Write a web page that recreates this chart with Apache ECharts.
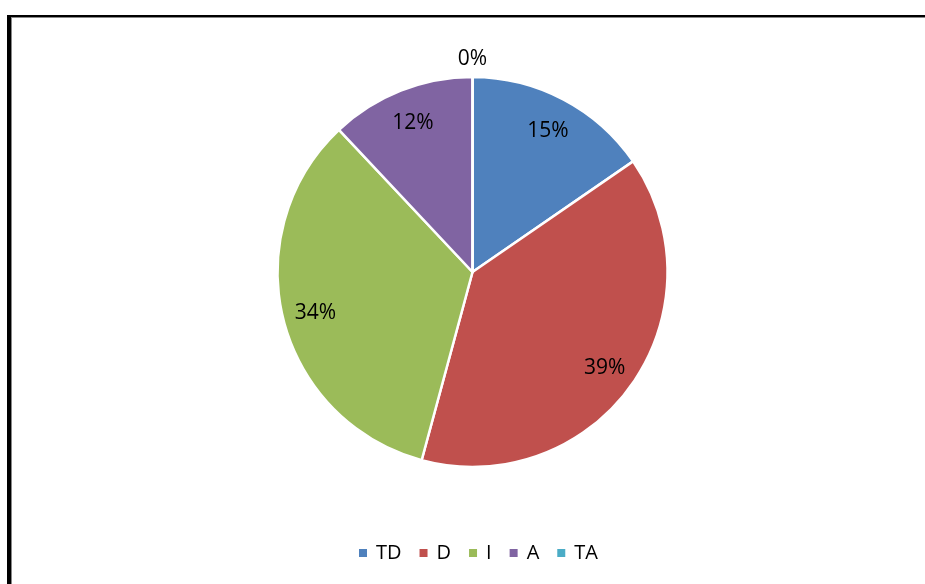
<!DOCTYPE html>
<html>
<head>
<meta charset="utf-8">
<script src="https://cdn.jsdelivr.net/npm/echarts@6/dist/echarts.min.js"></script>
<style>
html,body{margin:0;padding:0;background:#fff;}
#chart{width:925px;height:584px;}
</style>
</head>
<body>
<div id="chart"></div>
<script>
var categories = ['TD', 'D', 'I', 'A', 'TA'];
var values = [15.4, 38.8, 33.8, 12.0, 0];
var colors = ['#4F81BD', '#C0504D', '#9BBB59', '#8064A2', '#4BACC6'];

var FONT = '"Open Sans", "Liberation Sans", sans-serif';

var chart = echarts.init(document.getElementById('chart'), null, {renderer: 'canvas'});

var mainData = categories.map(function (c, i) {
  return { name: c, value: values[i], itemStyle: { color: colors[i] } };
});
var labelData = categories.map(function (c, i) {
  var d = { name: c, value: values[i] };
  if (values[i] === 0) {
    d.label = { position: 'inside', offset: [0, -51] };
  } else {
    d.label = { offset: [0, 2] };
  }
  return d;
});

chart.setOption({
  animation: false,
  backgroundColor: '#fff',
  color: colors,
  graphic: [
    { type: 'rect', shape: { x: 7, y: 15, width: 918, height: 2 }, style: { fill: '#000' }, silent: true },
    { type: 'rect', shape: { x: 11, y: 17, width: 914, height: 1 }, style: { fill: '#888' }, silent: true },
    { type: 'rect', shape: { x: 7, y: 15, width: 4, height: 569 }, style: { fill: '#000' }, silent: true },
    { type: 'rect', shape: { x: 11, y: 17, width: 1, height: 567 }, style: { fill: '#888' }, silent: true }
  ],
  legend: {
    data: categories,
    left: 354,
    top: 538,
    itemWidth: 8,
    itemHeight: 8,
    itemGap: 18,
    icon: 'rect',
    itemStyle: { borderWidth: 0 },
    textStyle: { fontFamily: FONT, fontSize: 20, color: '#000', padding: [0, 0, 0, 4] }
  },
  series: [
    {
      type: 'pie',
      center: [472.5, 272],
      radius: [0, 195],
      startAngle: 90,
      clockwise: true,
      label: { show: false },
      labelLine: { show: false },
      itemStyle: { borderColor: '#fff', borderWidth: 2.5 },
      emphasis: { disabled: true },
      data: mainData
    },
    {
      type: 'pie',
      center: [472.5, 272],
      radius: [123, 195],
      startAngle: 90,
      clockwise: true,
      silent: true,
      percentPrecision: 0,
      itemStyle: { color: 'rgba(0,0,0,0)', borderWidth: 0 },
      label: {
        show: true,
        position: 'inside',
        formatter: '{d}%',
        fontFamily: FONT,
        fontSize: 21,
        color: '#000'
      },
      labelLine: { show: false },
      emphasis: { disabled: true },
      legendHoverLink: false,
      data: labelData
    }
  ]
});
</script>
</body>
</html>
